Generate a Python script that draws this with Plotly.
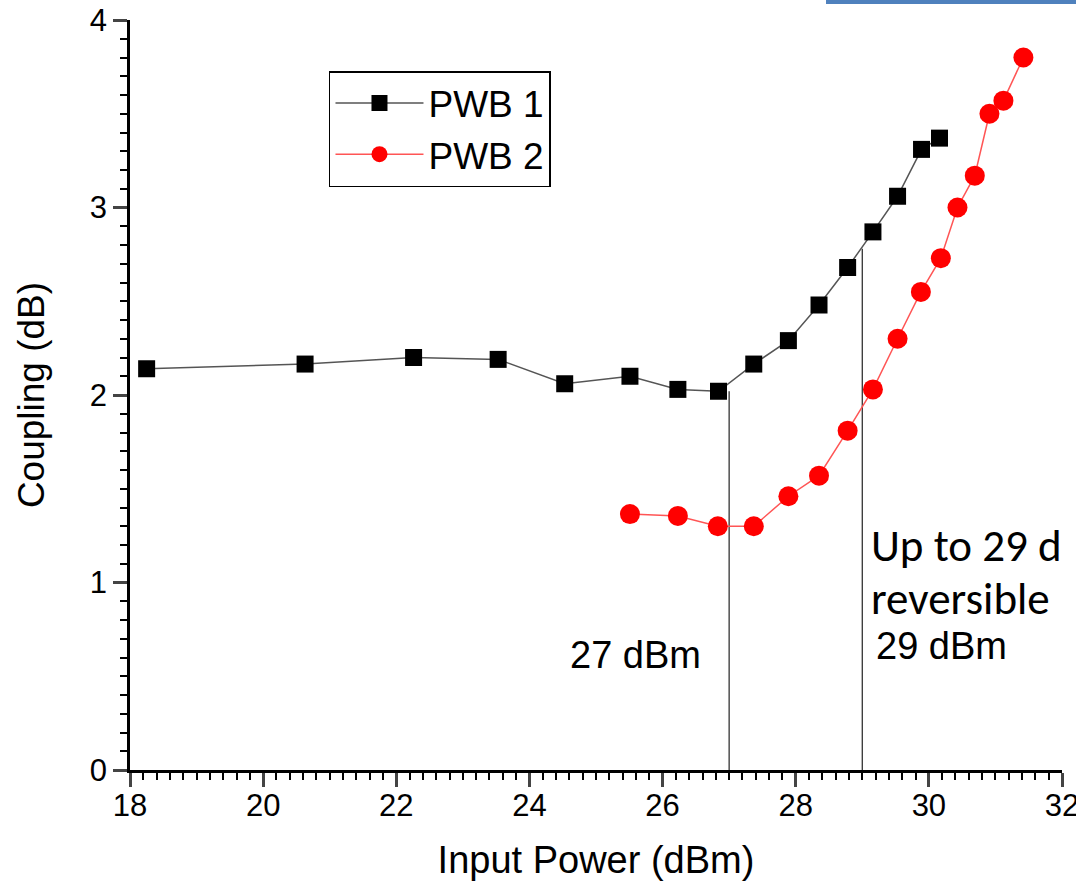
import plotly.graph_objects as go

# ---- data ----
pwb1_x = [18.25, 20.63, 22.26, 23.53, 24.53, 25.51, 26.23, 26.84, 27.37, 27.89, 28.35, 28.78, 29.16, 29.53, 29.89, 30.16]
pwb1_y = [2.14, 2.165, 2.20, 2.19, 2.06, 2.10, 2.03, 2.02, 2.165, 2.29, 2.48, 2.68, 2.87, 3.06, 3.31, 3.37]

pwb2_x = [25.51, 26.23, 26.83, 27.37, 27.89, 28.35, 28.78, 29.16, 29.53, 29.88, 30.18, 30.43, 30.69, 30.91, 31.12, 31.42]
pwb2_y = [1.365, 1.355, 1.30, 1.30, 1.46, 1.57, 1.81, 2.03, 2.30, 2.55, 2.73, 3.00, 3.17, 3.50, 3.57, 3.80]

ref_x = [27, 29]
ref_top = [2.02, 2.78]

ann_text = ["27 dBm", "Up to 29 d", "reversible", "29 dBm"]
ann_x = [25.59, 29.1, 29.1, 29.18]
ann_y = [0.613, 1.195, 0.915, 0.66]

x_ticks = [18, 20, 22, 24, 26, 28, 30, 32]
y_ticks = [0, 1, 2, 3, 4]

ARIAL = "Liberation Sans, Arial"
CALIBRI = "Carlito, Calibri, Liberation Sans"

fig = go.Figure()

for xv, top in zip(ref_x, ref_top):
    fig.add_trace(go.Scatter(x=[xv, xv], y=[0, top], mode="lines",
                             line=dict(color="#333333", width=1.3),
                             showlegend=False, hoverinfo="skip"))

fig.add_trace(go.Scatter(x=pwb1_x, y=pwb1_y, mode="lines+markers", name="PWB 1",
                         line=dict(color="#555555", width=1.5),
                         marker=dict(symbol="square", size=17, color="black")))
fig.add_trace(go.Scatter(x=pwb2_x, y=pwb2_y, mode="lines+markers", name="PWB 2",
                         line=dict(color="#ff5555", width=1.5),
                         marker=dict(symbol="circle", size=20, color="#ff0000")))

fonts = [ARIAL, CALIBRI, CALIBRI, ARIAL]
sizes = [38, 45, 45, 38]
anchors = ["center", "left", "left", "left"]
for t, xv, yv, fnt, sz, anc in zip(ann_text, ann_x, ann_y, fonts, sizes, anchors):
    fig.add_annotation(x=xv, y=yv, text=t, showarrow=False, xanchor=anc, yanchor="middle",
                       font=dict(family=fnt, size=sz, color="black"))

fig.update_xaxes(range=[18, 32], tickvals=x_ticks, ticks="outside", ticklen=14, tickwidth=2.5,
                 showline=True, linewidth=2.5, linecolor="black", showgrid=False, zeroline=False,
                 automargin=False, ticklabeloverflow="allow", ticklabelstandoff=-8,
                 tickfont=dict(family=ARIAL, size=31, color="black"),
                 title=dict(text="Input Power (dBm)", font=dict(family=ARIAL, size=38, color="black"), standoff=25),
                 minor=dict(dtick=0.2, ticks="outside", ticklen=7, tickwidth=2, tickcolor="black"))
fig.update_yaxes(range=[0, 4], tickvals=y_ticks, ticks="outside", ticklen=14, tickwidth=2.5,
                 showline=True, linewidth=2.5, linecolor="black", showgrid=False, zeroline=False,
                 automargin=False, ticklabeloverflow="allow",
                 tickfont=dict(family=ARIAL, size=31, color="black"),
                 title=dict(text="Coupling (dB)", font=dict(family=ARIAL, size=37, color="black"), standoff=34),
                 minor=dict(dtick=0.1, ticks="outside", ticklen=7, tickwidth=2, tickcolor="black"))

fig.add_shape(type="rect", xref="paper", yref="paper", x0=0.7468, x1=1.02, y0=1.0213, y1=1.03,
              fillcolor="#4f81bd", line=dict(width=0), layer="above")

fig.update_layout(width=1076, height=889, plot_bgcolor="white", paper_bgcolor="white",
                  margin=dict(l=130, r=14, t=20, b=119),
                  legend=dict(x=0.2135, y=0.932, xanchor="left", yanchor="top", bordercolor="black", borderwidth=1.5,
                              bgcolor="white", itemwidth=88,
                              font=dict(family=ARIAL, size=37, color="black"),
                              tracegroupgap=0))

fig.write_html("out.html", config={"displayModeBar": False},
               post_script="document.body.style.margin='0px';document.body.style.padding='0px';")
